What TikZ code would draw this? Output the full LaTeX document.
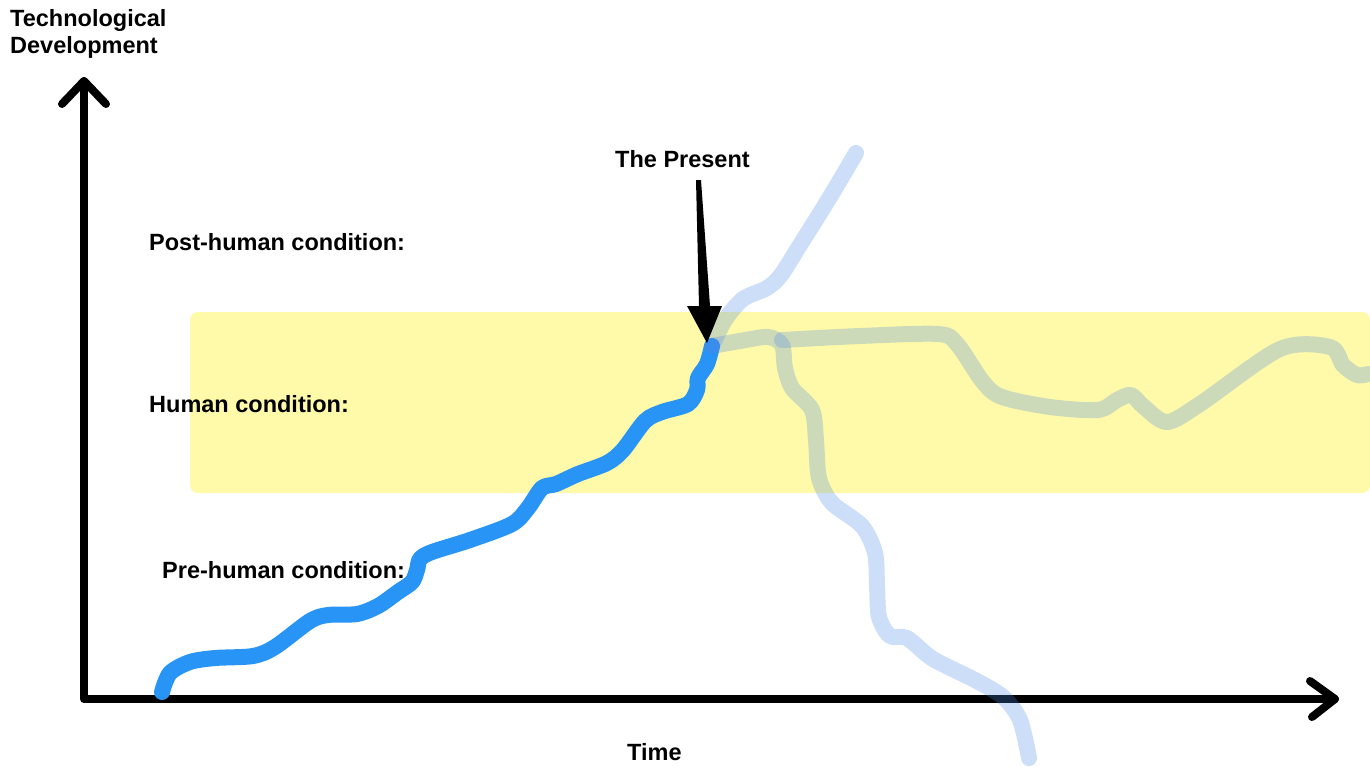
\documentclass[tikz,border=0pt]{standalone}
\usepackage{fontspec}
\setmainfont{Liberation Sans}
\definecolor{mainblue}{RGB}{40,148,245}
\definecolor{paleblue}{RGB}{76,137,230}
\definecolor{bandyellow}{RGB}{255,250,170}
\tikzset{
  axisline/.style={line width=8pt, line cap=round, line join=round, black},
  trail/.style={line width=16pt, line cap=round, line join=round, mainblue},
  ghost/.style={line width=16pt, line cap=round, line join=round, paleblue, draw opacity=0.28},
  lbl/.style={font=\fontsize{23.5}{27}\selectfont\bfseries, inner sep=0pt, anchor=base west},
}
\begin{document}
\begin{tikzpicture}[x=1pt, y=-1pt]
\useasboundingbox (0,0) rectangle (1370,766);
% human-condition band
\fill[bandyellow, rounded corners=8pt] (190,312) rectangle (1370,493);
% axes
\coordinate (O) at (84,699);
\coordinate (Ytip) at (84,81);
\coordinate (Xtip) at (1335,699);
\draw[axisline] (Ytip) -- (O) -- (Xtip);
\draw[axisline] (62,104) -- (Ytip) -- (106,104);
\draw[axisline] (1310,681) -- (Xtip) -- (1312,717);
% past trajectory
\coordinate (present) at (712,346);
\draw[trail] plot[smooth, tension=0.5] coordinates {
  (162,692) (170,673) (190,662) (215,658) (253,656) (275,647) (310,621) (328,615)
  (357,614) (378,606) (398,592) (412,582) (417,570) (420,559) (432,552) (470,540)
  (512,524) (528,508) (542,488) (556,484) (578,474) (607,463) (623,450) (645,421)
  (662,412) (688,404) (697,390) (698,378) (707,364) (present)};
% possible futures
\draw[ghost] plot[smooth, tension=0.5] coordinates {
  (present) (725,320) (743,299) (767,288) (781,275) (800,245) (830,197) (856,153)};
\draw[ghost] plot[smooth, tension=0.5] coordinates {
  (present) (740,341) (768,337) (782,345) (785,368) (792,388) (812,410) (816,440)
  (819,478) (832,503) (862,526) (875,553) (877,585) (879,617) (890,636) (907,638)
  (933,659) (975,680) (1003,697) (1020,720) (1029,758)};
\draw[ghost] plot[smooth, tension=0.5] coordinates {
  (782,340) (860,336) (938,334) (957,344) (983,382) (1002,397) (1050,407) (1098,410)
  (1117,400) (1131,395) (1144,407) (1167,422) (1200,404) (1280,349) (1330,347)
  (1343,365) (1357,375) (1368,374)};
% "The Present" pointer
\fill[black] (696,180) -- (701,180) -- (710,306) -- (722,306) -- (707,343) -- (687,306) -- (699,306) -- cycle;
% labels
\node[lbl] (ylabel1) at (10,26) {Technological};
\node[lbl] (ylabel2) at (10,53) {Development};
\node[lbl] (xlabel) at (627,760) {Time};
\node[lbl] (presentlabel) at (615,167) {The Present};
\node[lbl] (post) at (149,250) {Post-human condition:};
\node[lbl] (human) at (149,412) {Human condition:};
\node[lbl] (pre) at (162,578) {Pre-human condition:};
\end{tikzpicture}
\end{document}
